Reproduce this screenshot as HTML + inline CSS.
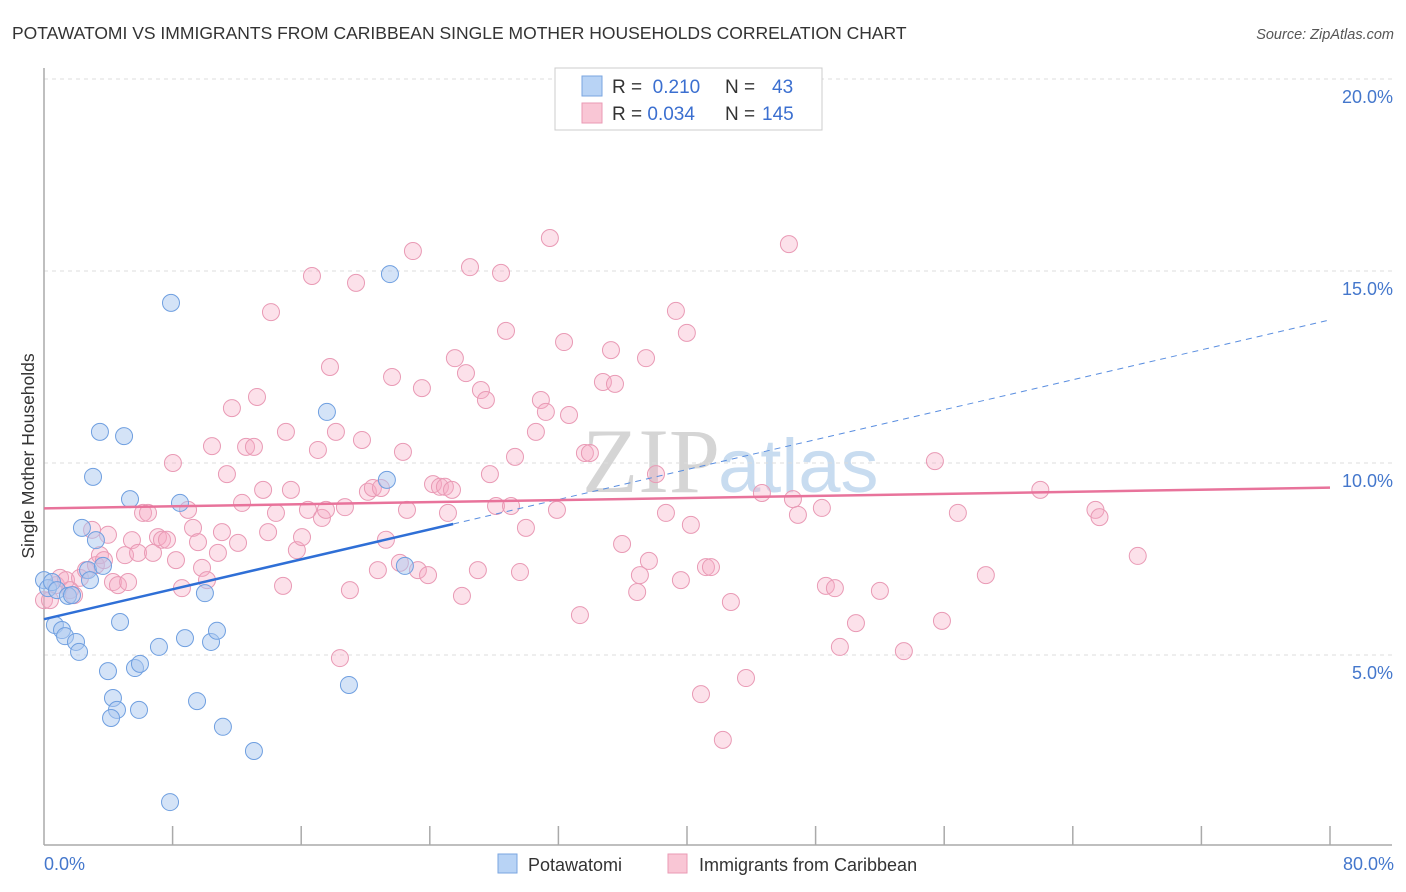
<!DOCTYPE html>
<html><head><meta charset="utf-8"><style>
body{margin:0;background:#fff;font-family:"Liberation Sans",sans-serif;}
#wrap{position:relative;width:1406px;height:892px;overflow:hidden;}
</style></head><body>
<div id="wrap">
<svg id="svg" width="1406" height="892" xmlns="http://www.w3.org/2000/svg">
<text x="12" y="39" font-size="17.5" fill="#333">POTAWATOMI VS IMMIGRANTS FROM CARIBBEAN SINGLE MOTHER HOUSEHOLDS CORRELATION CHART</text>
<text x="1394" y="39" font-size="14.5" fill="#555" font-style="italic" text-anchor="end">Source: ZipAtlas.com</text>
<text transform="translate(34,456) rotate(-90)" font-size="17.5" fill="#333" text-anchor="middle">Single Mother Households</text>
<text x="720" y="492" font-size="92" fill="#d5d5d5" text-anchor="end" font-family="Liberation Serif, serif">ZIP</text>
<text x="718" y="492" font-size="76" fill="#c8dcf0">atlas</text>
<g id="grid"></g><g id="axes"></g><g id="pinkpts"></g><g id="bluepts"></g><g id="lines"></g>
<rect x="555" y="68" width="267" height="62" fill="#fff" stroke="#ccc"/>
<rect x="582" y="76" width="20" height="20" fill="#b8d3f5" stroke="#7aa6e0"/>
<rect x="582" y="103" width="20" height="20" fill="#f9c6d5" stroke="#ea9ab4"/>
<text x="612" y="93" font-size="19" fill="#333">R = <tspan fill="#3b6fd0">&#160;0.210</tspan><tspan x="725">N = </tspan><tspan fill="#3b6fd0" x="772">43</tspan></text>
<text x="612" y="120" font-size="19" fill="#333">R = <tspan fill="#3b6fd0">0.034</tspan><tspan x="725">N = </tspan><tspan fill="#3b6fd0" x="762">145</tspan></text>
<rect x="498" y="854" width="19" height="19" fill="#b8d3f5" stroke="#7aa6e0"/>
<text x="528" y="871" font-size="18" fill="#333">Potawatomi</text>
<rect x="668" y="854" width="19" height="19" fill="#f9c6d5" stroke="#ea9ab4"/>
<text x="699" y="871" font-size="18" fill="#333">Immigrants from Caribbean</text>
<text x="44" y="870" font-size="18" fill="#4477cc">0.0%</text>
<text x="1394" y="870" font-size="18" fill="#4477cc" text-anchor="end">80.0%</text>
</svg></div>
<script>
const blueX=[0,0.25,0.5,0.81,0.68,1.12,1.31,1.49,1.74,1.99,2.18,2.36,2.74,2.86,3.23,3.05,3.48,3.67,4.98,4.73,5.35,3.98,4.29,4.54,4.17,5.66,5.97,5.91,7.15,7.90,7.84,8.46,8.77,9.52,10.01,10.39,10.76,11.13,13.06,17.60,18.97,21.33,21.52,22.45];
const blueY=[6.95,6.74,6.90,6.69,5.78,5.65,5.49,6.54,6.56,5.34,5.08,8.31,7.21,6.95,7.99,9.64,10.81,7.32,10.70,5.86,9.06,4.58,3.88,3.57,3.36,4.66,4.77,3.57,5.21,14.17,1.17,8.96,5.44,3.80,6.61,5.34,5.63,3.13,2.50,11.33,4.22,9.56,14.92,7.32];
const pinkX=[0,0.37,0.75,1.00,1.37,1.62,1.87,2.24,2.61,2.99,3.23,3.48,3.73,3.98,4.29,4.60,5.04,5.23,5.47,5.85,6.16,6.47,6.78,7.09,7.34,7.65,8.02,8.21,8.58,8.96,9.27,9.58,9.83,10.14,10.45,10.82,11.07,11.38,11.69,12.07,12.32,12.57,13.06,13.25,13.63,13.94,14.12,14.43,14.87,15.05,15.36,15.73,16.05,16.42,16.67,17.04,17.29,17.54,17.79,18.16,18.41,18.72,19.03,19.41,19.78,20.15,20.46,20.77,20.96,21.27,21.65,22.14,22.33,22.58,22.95,23.26,23.51,23.89,24.20,24.63,24.94,25.13,25.38,25.56,26.00,26.25,26.50,26.99,27.18,27.49,27.74,28.12,28.43,28.74,29.05,29.30,29.61,29.98,30.60,30.91,31.22,31.47,31.91,32.35,32.66,33.34,33.65,33.96,34.77,35.27,35.52,35.96,36.90,37.07,37.45,37.63,38.07,38.69,39.31,39.62,39.99,40.24,40.87,41.18,41.49,42.23,42.73,43.67,44.66,46.34,46.59,46.90,48.39,48.64,49.20,49.51,50.51,52.00,53.49,55.42,55.86,56.85,58.59,61.98,65.41,65.66,68.04];
const pinkY=[6.43,6.43,6.82,7.01,6.95,6.69,6.56,7.01,7.21,8.26,7.34,7.60,7.47,8.13,6.90,6.82,7.60,6.90,7.99,7.66,8.70,8.70,7.66,8.07,8.00,8.00,10.00,7.47,6.74,8.78,8.31,7.94,7.27,6.95,10.44,7.66,8.20,9.71,11.43,7.92,8.96,10.42,10.42,11.72,9.30,8.20,13.93,8.70,6.80,10.81,9.30,7.73,8.07,8.78,14.87,10.34,8.57,8.78,12.50,10.81,4.92,8.85,6.69,14.69,10.60,9.25,9.35,7.21,9.35,8.00,12.24,7.40,10.29,8.78,15.52,7.21,11.95,7.08,9.45,9.38,9.38,8.70,9.30,12.73,6.54,12.34,15.10,7.21,11.90,11.64,9.71,8.88,14.95,13.44,8.88,10.16,7.16,8.31,10.81,11.64,11.33,15.86,8.78,13.15,11.25,6.04,10.26,10.26,12.11,12.94,12.06,7.89,6.64,7.08,12.73,7.45,9.71,8.70,13.96,6.95,13.39,8.39,3.98,7.29,7.29,2.79,6.38,4.40,9.22,15.70,9.06,8.65,8.83,6.80,6.74,5.21,5.83,6.67,5.10,10.05,5.89,8.70,7.08,9.30,8.78,8.59,7.58];
const yTicks=[5,10,15,20];
const yTickLabels=["5.0%","10.0%","15.0%","20.0%"];
const xTicks=[0,8,16,24,32,40,48,56,64,72,80];
const NS="http://www.w3.org/2000/svg";
const X0=44,X1=1330,Y0=847,PXY=38.4;
const sx=v=>X0+(v/80)*(X1-X0);
const sy=v=>Y0-v*PXY;
function mk(tag,attrs,parent){const e=document.createElementNS(NS,tag);for(const k in attrs)e.setAttribute(k,attrs[k]);document.getElementById(parent).appendChild(e);return e;}
yTicks.forEach((t,i)=>{
 const l=mk('line',{x1:X0,x2:1392,y1:sy(t),y2:sy(t),stroke:'#ddd','stroke-dasharray':'4,4'},'grid');
 
 
 const tx=mk('text',{x:1393,y:sy(t)+24,'font-size':18,fill:'#4477cc','text-anchor':'end'},'grid');
 tx.textContent=yTickLabels[i];
 
 
});
const ax=mk('line',{x1:X0,x2:X0,y1:68,y2:845,stroke:'#aaa','stroke-width':1.5},'axes');


const bx=mk('line',{x1:X0,x2:1392,y1:845,y2:845,stroke:'#aaa','stroke-width':1.5},'axes');


xTicks.slice(1).forEach(t=>{
 const l=mk('line',{x1:sx(t),x2:sx(t),y1:826,y2:845,stroke:'#aaa','stroke-width':1.5},'axes');
 
 
});
pinkX.forEach((x,i)=>{
 const c=mk('circle',{cx:sx(x),cy:sy(pinkY[i]),r:8.5,fill:'rgba(245,170,195,0.35)',stroke:'#e99ab5','stroke-width':1},'pinkpts');
 
 
});
blueX.forEach((x,i)=>{
 const c=mk('circle',{cx:sx(x),cy:sy(blueY[i]),r:8.5,fill:'rgba(170,200,240,0.5)',stroke:'#6f9fe0','stroke-width':1},'bluepts');
 
 
});
function fit(xs,ys){const n=xs.length;let mx=0,my=0;xs.forEach((x,i)=>{mx+=x;my+=ys[i];});mx/=n;my/=n;let sxy=0,sxx=0;xs.forEach((x,i)=>{sxy+=(x-mx)*(ys[i]-my);sxx+=(x-mx)*(x-mx);});const b=sxy/sxx;return [my-b*mx,b];}
const [ba,bb]=fit(blueX,blueY);
const bmax=Math.max(...blueX)+3;
const l1=mk('line',{x1:sx(0),y1:sy(ba),x2:sx(bmax),y2:sy(ba+bb*bmax),stroke:'#2f6fd6','stroke-width':2.5},'lines');


const l2=mk('line',{x1:sx(bmax),y1:sy(ba+bb*bmax),x2:sx(80),y2:sy(ba+bb*80),stroke:'#5a8ee0','stroke-width':1,'stroke-dasharray':'6,5'},'lines');


const [pa,pb]=fit(pinkX,pinkY);
const l3=mk('line',{x1:sx(0),y1:sy(pa),x2:sx(80),y2:sy(pa+pb*80),stroke:'#e8739b','stroke-width':2.5},'lines');


</script>
</body></html>
